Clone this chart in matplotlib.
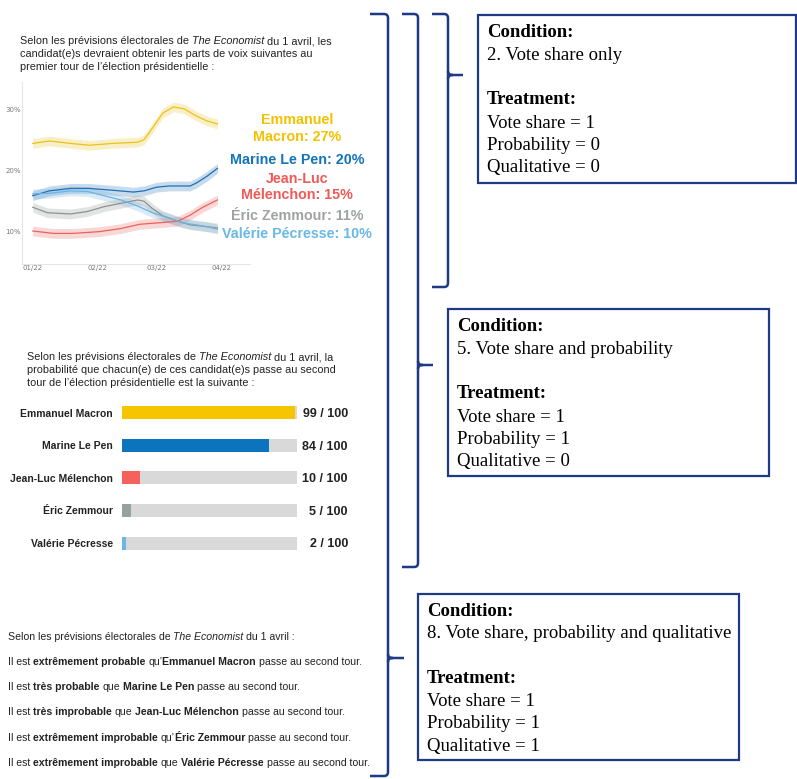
import matplotlib.pyplot as plt
from matplotlib.patches import Rectangle, PathPatch
from matplotlib.path import Path

# =====================================================
# Data
# =====================================================

candidates = ["Emmanuel Macron", "Marine Le Pen", "Jean-Luc Mélenchon",
              "Éric Zemmour", "Valérie Pécresse"]
line_colors = ["#EBC21C", "#1F70B6", "#E9625C", "#8F9393", "#6DB2E0"]
bar_colors = ["#F6C500", "#0B74BC", "#F6625B", "#97A29F", "#6BB6E8"]
label_colors = ["#F2C200", "#1474BA", "#EF5A55", "#A0A3A3", "#69B9E8"]

# vote share trajectories (day 0 = 1 Jan 2022)
macron_days = [0, 8, 18, 27, 38, 50, 53, 57, 62, 67, 72, 78, 83, 88]
macron = [24.5, 24.9, 24.5, 24.2, 24.5, 24.7, 25.1, 27.0, 29.5, 30.5, 30.2, 29.0, 28.2, 27.7]

lepen_days = [0, 8, 18, 27, 38, 48, 53, 59, 65, 75, 78, 83, 88]
lepen = [15.9, 16.7, 17.1, 17.1, 16.8, 16.5, 16.7, 17.3, 17.5, 17.5, 18.0, 19.1, 20.4]

melenchon_days = [0, 10, 19, 32, 42, 51, 62, 69, 75, 81, 88]
melenchon = [10.1, 9.7, 9.7, 10.0, 10.5, 11.2, 11.5, 11.7, 12.7, 14.0, 15.2]

zemmour_days = [0, 7, 18, 26, 34, 42, 50, 53, 57, 62, 69, 75, 83, 88]
zemmour = [14.0, 13.1, 12.9, 13.3, 14.1, 14.65, 15.2, 15.0, 13.8, 12.6, 11.7, 11.1, 10.8, 10.6]

pecresse_days = [0, 8, 18, 26, 34, 42, 50, 57, 65, 72, 78, 83, 88]
pecresse = [16.2, 16.3, 16.7, 16.6, 15.9, 15.2, 14.2, 13.1, 12.2, 11.4, 11.1, 10.8, 10.4]

final_share = [27, 20, 15, 11, 10]
share_labels = ["Emmanuel\nMacron: 27%", "Marine Le Pen: 20%", "Jean-Luc\nMélenchon: 15%",
                "Éric Zemmour: 11%", "Valérie Pécresse: 10%"]

month_ticks = [0, 31, 59, 90]
month_labels = ["01/22", "02/22", "03/22", "04/22"]
pct_ticks = [10, 20, 30]

# probability of reaching the second round (out of 100)
probability = [99, 84, 10, 5, 2]

qualitative = ["extrêmement probable", "très probable", "très improbable",
               "extrêmement improbable", "extrêmement improbable"]
linkers = [" qu’", " que ", " que ", " qu’", " que "]

conditions = ["2. Vote share only", "5. Vote share and probability",
              "8. Vote share, probability and qualitative"]
treatments = [(1, 0, 0), (1, 1, 0), (1, 1, 1)]

# =====================================================
# Figure / overlay in pixel coordinates
# =====================================================

W, H = 797, 779
NAVY = "#1E3A85"
TXT = "#222222"
SANS = "Liberation Sans"
SERIF = "Liberation Serif"

fig = plt.figure(figsize=(W / 100, H / 100), dpi=100)
ax0 = fig.add_axes([0, 0, 1, 1])
ax0.set_xlim(0, W)
ax0.set_ylim(H, 0)
ax0.axis("off")
renderer = fig.canvas.get_renderer()


def px_axes(x0, y0, x1, y1):
    return fig.add_axes([x0 / W, 1 - y1 / H, (x1 - x0) / W, (y1 - y0) / H])


def text_width(s, **kw):
    t = ax0.text(0, 0, s, **kw)
    w = t.get_window_extent(renderer).width
    t.remove()
    return w


def rich_line(x, y, parts, size, color=TXT):
    # parts: list of (text, weight, style); widths measured between bars so spaces count
    for s, weight, style in parts:
        kw = dict(fontsize=size, fontweight=weight, fontstyle=style, family=SANS)
        lead = len(s) - len(s.lstrip(" "))
        core = s.strip(" ")
        x_core = x + text_width("|" + " " * lead + "|", **kw) - text_width("||", **kw)
        ax0.text(x_core, y, core, color=color, va="center", ha="left", **kw)
        x += text_width("|" + s + "|", **kw) - text_width("||", **kw)


R = "normal"
B = "bold"

# =====================================================
# Section 1: vote share lines
# =====================================================

rich_line(20, 41, [("Selon les prévisions électorales de ", R, R),
                   ("The Economist", R, "italic"),
                   (" du 1 avril, les", R, R)], 7.8)
rich_line(20, 54, [("candidat(e)s devraient obtenir les parts de voix suivantes au", R, R)], 7.8)
rich_line(20, 67, [("premier tour de l’élection présidentielle :", R, R)], 7.8)

ax1 = px_axes(22, 82, 250, 264)
series = [(macron_days, macron), (lepen_days, lepen), (melenchon_days, melenchon),
          (zemmour_days, zemmour), (pecresse_days, pecresse)]
for (d, v), c in zip(series, line_colors):
    ax1.fill_between(d, [a - 0.8 for a in v], [a + 0.8 for a in v],
                     color=c, alpha=0.25, lw=0)
    ax1.plot(d, v, color=c, lw=0.9)
ax1.set_xlim(-5.1, 103.5)
ax1.set_ylim(4.67, 34.6)
ax1.set_xticks(month_ticks)
ax1.set_xticklabels(month_labels)
ax1.set_yticks(pct_ticks)
ax1.set_yticklabels([f"{p}%" for p in pct_ticks])
ax1.tick_params(length=0, labelsize=5, colors="#777777", pad=1)
for s in ["top", "right"]:
    ax1.spines[s].set_visible(False)
for s in ["left", "bottom"]:
    ax1.spines[s].set_color("#E6E6E6")
    ax1.spines[s].set_linewidth(0.8)
ax1.patch.set_alpha(0)

label_y = [128.5, 160, 187, 216, 234]
for lab, c, yy in zip(share_labels, label_colors, label_y):
    ax0.text(297, yy, lab, color=c, fontsize=10.3, fontweight="bold", family=SANS,
             ha="center", va="center", linespacing=1.2)

# =====================================================
# Section 2: probability bars
# =====================================================

rich_line(27, 357, [("Selon les prévisions électorales de ", R, R),
                    ("The Economist", R, "italic"),
                    (" du 1 avril, la", R, R)], 7.8)
rich_line(27, 370, [("probabilité que chacun(e) de ces candidat(e)s passe au second", R, R)], 7.8)
rich_line(27, 383, [("tour de l’élection présidentielle est la suivante :", R, R)], 7.8)

ax2 = px_axes(122, 396.75, 297, 559.25)
ypos = list(range(len(candidates)))
ax2.barh(ypos, [100] * len(ypos), height=0.4, color="#D9D9D9")
ax2.barh(ypos, probability, height=0.4, color=bar_colors)
ax2.set_xlim(0, 100)
ax2.set_ylim(4.5, -0.5)
ax2.set_yticks(ypos)
ax2.set_yticklabels(candidates, fontsize=7.5, fontweight="bold", family=SANS, color=TXT)
ax2.set_xticks([])
ax2.tick_params(length=0, pad=6.5)
for s in ax2.spines.values():
    s.set_visible(False)
ax2.patch.set_alpha(0)
for i, p in enumerate(probability):
    ax2.text(1.291, i + 0.04, f"{p} / 100", transform=ax2.get_yaxis_transform(),
             ha="right", va="center", fontsize=9, fontweight="bold", family=SANS, color=TXT)

# =====================================================
# Section 3: qualitative statements
# =====================================================

rich_line(8, 637, [("Selon les prévisions électorales de ", R, R),
                   ("The Economist", R, "italic"),
                   (" du 1 avril :", R, R)], 7.6)
for i, (name, q, lk) in enumerate(zip(candidates, qualitative, linkers)):
    rich_line(8, 662 + i * 25.2, [("Il est ", R, R), (q, B, R), (lk, R, R),
                                  (name, B, R), (" passe au second tour.", R, R)], 7.6)

# =====================================================
# Braces and condition boxes
# =====================================================


def brace(xl, xv, yt, yb, ytip, xtip, r=4):
    verts = [(xl, yt), (xv - r, yt), (xv, yt), (xv, yt + r),
             (xv, yb - r), (xv, yb), (xv - r, yb), (xl, yb)]
    codes = [Path.MOVETO, Path.LINETO, Path.CURVE3, Path.CURVE3,
             Path.LINETO, Path.CURVE3, Path.CURVE3, Path.LINETO]
    ax0.add_patch(PathPatch(Path(verts, codes), fill=False, ec=NAVY, lw=1.8,
                            capstyle="butt", joinstyle="round"))
    tip = [(xv, ytip - 4), (xv, ytip), (xv + 5, ytip), (xtip, ytip),
           (xv, ytip + 4), (xv, ytip), (xv + 5, ytip)]
    tcodes = [Path.MOVETO, Path.CURVE3, Path.CURVE3, Path.LINETO,
              Path.MOVETO, Path.CURVE3, Path.CURVE3]
    ax0.add_patch(PathPatch(Path(tip, tcodes), fill=False, ec=NAVY, lw=1.8, capstyle="butt"))


brace(370, 388, 14, 776, 658, 404)
brace(402, 418, 14, 567, 365, 433)
brace(432, 448, 14, 287, 75, 463)

boxes = [(478, 15, 796, 183), (448, 309, 769, 476), (418, 594, 739, 760)]
for (x0, y0, x1, y1), cond, (v, p, q) in zip(boxes, conditions, treatments):
    ax0.add_patch(Rectangle((x0, y0), x1 - x0, y1 - y0, fill=False, ec=NAVY, lw=1.6))
    tx = x0 + 9
    kw = dict(fontsize=13.5, family=SERIF, color="black", ha="left", va="center")
    ax0.text(tx, y0 + 17, "Condition:", fontweight="bold", **kw)
    ax0.text(tx, y0 + 40, cond, **kw)
    ax0.text(tx, y0 + 84.5, "Treatment:", fontweight="bold", **kw)
    ax0.text(tx, y0 + 108, f"Vote share = {v}", **kw)
    ax0.text(tx, y0 + 130, f"Probability = {p}", **kw)
    ax0.text(tx, y0 + 152, f"Qualitative = {q}", **kw)

fig.savefig("out.png", dpi=100)
